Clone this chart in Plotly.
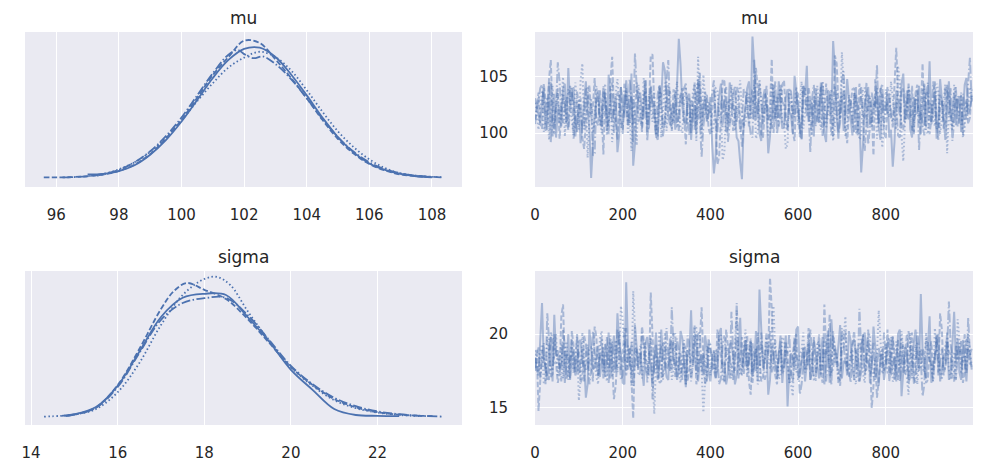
"""Trace plot of the mu / sigma posterior: KDE per chain on the left, draws on the right"""

import plotly.graph_objects as go
from plotly.subplots import make_subplots

# KDE of each chain (chain 0..3)
mu_kde_x = [
    [97.0, 97.5, 98.0, 98.5, 99.0, 99.5, 100.0, 100.5, 101.0, 101.5, 102.0, 102.5,
     103.0, 103.5, 104.0, 104.5, 105.0, 105.5, 106.0, 106.5, 107.0, 107.5, 108.0],
    [95.6, 96.0, 96.5, 97.0, 97.5, 98.0, 98.5, 99.0, 99.5, 100.0, 100.5, 101.0, 101.5,
     102.0, 102.5, 103.0, 103.5, 104.0, 104.5, 105.0, 105.5, 106.0, 106.5, 107.0, 107.5, 107.9],
    [97.3, 97.5, 98.0, 98.5, 99.0, 99.5, 100.0, 100.5, 101.0, 101.5, 102.0, 102.5,
     103.0, 103.5, 104.0, 104.5, 105.0, 105.5, 106.0, 106.5, 107.0, 107.5, 108.0, 108.3],
    [96.2, 96.5, 97.0, 97.5, 98.0, 98.5, 99.0, 99.5, 100.0, 100.5, 101.0, 101.5, 101.8,
     102.0, 102.3, 102.6, 103.0, 103.5, 104.0, 104.5, 105.0, 105.5, 106.0, 106.5, 107.0,
     107.5, 108.0, 108.3],
]
mu_kde_y = [
    [0.006, 0.007, 0.012, 0.022, 0.040, 0.065, 0.097, 0.134, 0.172, 0.203, 0.222, 0.224,
     0.208, 0.178, 0.142, 0.104, 0.070, 0.044, 0.025, 0.014, 0.007, 0.003, 0.0013],
    [0.001, 0.001, 0.0015, 0.003, 0.006, 0.012, 0.023, 0.041, 0.068, 0.100, 0.138, 0.177, 0.208,
     0.236, 0.232, 0.204, 0.172, 0.137, 0.100, 0.067, 0.042, 0.024, 0.013, 0.006, 0.003, 0.0015],
    [0.004, 0.006, 0.015, 0.027, 0.045, 0.070, 0.099, 0.132, 0.163, 0.190, 0.207, 0.217,
     0.208, 0.185, 0.151, 0.114, 0.080, 0.053, 0.032, 0.017, 0.008, 0.004, 0.002, 0.0015],
    [0.001, 0.0015, 0.003, 0.007, 0.014, 0.027, 0.046, 0.072, 0.104, 0.142, 0.180, 0.212, 0.220,
     0.213, 0.206, 0.209, 0.196, 0.170, 0.137, 0.102, 0.070, 0.045, 0.027, 0.015, 0.008,
     0.004, 0.002, 0.0012],
]

sigma_kde_x = [
    [14.7, 15.0, 15.5, 16.0, 16.5, 17.0, 17.5, 18.0, 18.5, 19.0, 19.5, 20.0, 20.5,
     21.0, 21.5, 22.0, 22.5],
    [14.8, 15.0, 15.5, 16.0, 16.5, 17.0, 17.3, 17.6, 18.0, 18.5, 19.0, 19.5, 20.0, 20.5,
     21.0, 21.5, 22.0, 22.5, 23.0, 23.3],
    [14.3, 14.7, 15.0, 15.5, 16.0, 16.5, 17.0, 17.5, 18.0, 18.3, 18.6, 19.0, 19.5, 20.0,
     20.5, 21.0, 21.5, 22.0, 22.5, 23.0],
    [14.8, 15.0, 15.5, 16.0, 16.5, 17.0, 17.5, 18.0, 18.5, 19.0, 19.5, 20.0, 20.5, 21.0,
     21.5, 22.0, 22.5, 23.0, 23.5],
]
sigma_kde_y = [
    [0.003, 0.007, 0.025, 0.078, 0.163, 0.250, 0.298, 0.308, 0.305, 0.250, 0.188, 0.118, 0.068,
     0.020, 0.005, 0.003, 0.002],
    [0.003, 0.006, 0.024, 0.080, 0.170, 0.270, 0.315, 0.335, 0.318, 0.295, 0.245, 0.185, 0.125,
     0.080, 0.045, 0.024, 0.012, 0.006, 0.003, 0.002],
    [0.001, 0.003, 0.006, 0.020, 0.062, 0.135, 0.230, 0.305, 0.345, 0.350, 0.330, 0.265, 0.190,
     0.125, 0.078, 0.042, 0.022, 0.011, 0.005, 0.002],
    [0.003, 0.006, 0.023, 0.075, 0.160, 0.243, 0.285, 0.297, 0.298, 0.255, 0.192, 0.128, 0.082,
     0.048, 0.027, 0.014, 0.007, 0.003, 0.001],
]

# every 4th draw of the 1000 per chain
draws = list(range(0, 1000, 4))

# values at draws 0, 8, 16, ...
mu_trace = [
    [103.1, 101.4, 102.8, 100.2, 104.5, 101.9, 99.6, 102.3, 103.9, 100.8,
     102.5, 104.1, 101.2, 99.1, 103.4, 102.0, 96.0, 101.7, 103.8, 100.5,
     102.9, 105.2, 101.0, 103.3, 99.8, 102.6, 104.7, 100.9, 97.1, 102.2,
     103.6, 101.3, 100.1, 104.2, 102.7, 99.4, 103.0, 105.6, 101.5, 102.1,
     100.3, 108.4, 102.4, 100.7, 103.5, 101.8, 99.9, 104.0, 102.6, 101.1,
     103.2, 96.4, 101.6, 104.4, 102.9, 100.4, 103.7, 101.9, 99.3, 95.9,
     102.8, 104.6, 108.6, 101.2, 100.0, 103.1, 102.3, 99.7, 104.3, 101.4,
     102.0, 100.6, 103.9, 101.5, 105.1, 102.7, 99.5, 103.4, 101.0, 102.5,
     104.0, 100.9, 102.2, 99.2, 103.6, 108.2, 101.7, 102.9, 100.2, 104.8,
     101.3, 103.0, 99.8, 96.5, 102.6, 104.1, 101.1, 102.4, 100.5, 103.5,
     102.1, 99.6, 97.0, 103.8, 101.6, 105.3, 102.8, 100.3, 103.2, 101.8,
     99.9, 104.4, 102.5, 100.8, 103.7, 101.3, 102.9, 99.4, 104.6, 102.0,
     100.7, 103.3, 101.5, 104.9, 102.2],
    [101.2, 103.6, 100.4, 102.9, 104.8, 101.7, 102.3, 99.5, 103.4, 101.0,
     104.2, 102.6, 100.1, 103.0, 98.6, 102.8, 101.5, 104.9, 100.7, 102.1,
     103.7, 99.9, 106.8, 101.4, 102.7, 100.3, 103.9, 102.0, 99.2, 104.5,
     101.8, 103.2, 100.6, 106.9, 102.4, 99.7, 103.5, 101.1, 104.3, 100.2,
     102.9, 101.6, 104.0, 99.0, 103.1, 102.2, 100.8, 105.4, 101.3, 102.6,
     99.8, 103.8, 97.2, 102.1, 104.6, 100.9, 102.7, 101.4, 103.6, 98.8,
     102.4, 100.5, 103.9, 105.8, 101.7, 99.6, 104.2, 102.3, 100.0, 103.3,
     101.9, 104.7, 100.4, 102.8, 99.3, 103.5, 101.2, 102.5, 104.1, 100.6,
     103.0, 101.5, 99.7, 104.4, 102.1, 100.8, 106.2, 101.3, 103.7, 99.1,
     102.6, 104.0, 100.2, 102.9, 98.4, 103.4, 101.8, 104.8, 100.9, 102.3,
     99.5, 103.1, 101.0, 107.6, 102.5, 100.3, 103.8, 101.6, 99.9, 104.3,
     102.0, 100.7, 103.5, 101.2, 104.6, 99.4, 102.8, 101.1, 103.2, 100.5,
     104.1, 101.7, 99.8, 103.0, 101.4],
    [102.7, 100.3, 103.8, 101.1, 99.4, 104.2, 102.0, 100.8, 105.0, 101.6,
     103.3, 99.8, 102.4, 104.7, 100.6, 97.8, 103.1, 101.3, 102.9, 100.0,
     104.4, 101.8, 99.2, 103.5, 102.2, 100.7, 104.0, 101.4, 103.0, 98.9,
     102.5, 104.9, 100.9, 102.0, 103.7, 101.2, 99.6, 104.5, 102.8, 100.4,
     103.4, 102.1, 100.0, 104.1, 101.5, 103.6, 99.3, 102.7, 105.2, 101.0,
     102.3, 100.6, 103.9, 101.7, 98.3, 102.9, 104.3, 100.2, 103.2, 101.8,
     100.9, 103.5, 102.0, 99.5, 104.8, 101.3, 102.6, 100.1, 103.7, 102.2,
     104.0, 101.0, 99.0, 103.3, 102.5, 100.7, 104.6, 101.6, 102.9, 99.8,
     103.1, 101.9, 104.5, 100.4, 102.7, 99.3, 103.8, 101.2, 104.2, 100.8,
     102.4, 103.6, 101.0, 99.7, 104.0, 102.1, 100.5, 103.3, 101.8, 98.7,
     103.9, 101.4, 102.8, 100.3, 104.6, 97.5, 102.2, 103.5, 100.9, 102.6,
     101.1, 104.2, 99.9, 102.7, 100.6, 103.8, 101.5, 104.4, 102.0, 100.2,
     103.4, 101.9, 99.6, 102.9, 104.1],
    [100.8, 102.9, 104.3, 101.5, 103.0, 99.7, 102.4, 104.6, 100.9, 103.2,
     101.8, 99.5, 103.7, 102.1, 100.4, 104.0, 102.6, 98.2, 103.1, 101.2,
     102.8, 100.6, 104.5, 101.9, 103.3, 99.9, 102.2, 104.8, 100.7, 103.6,
     101.4, 102.9, 99.3, 104.1, 101.0, 103.5, 102.3, 100.5, 106.5, 101.7,
     103.8, 100.2, 102.6, 104.4, 99.8, 102.0, 103.9, 101.3, 100.6, 103.4,
     101.9, 104.7, 100.0, 102.8, 103.2, 99.2, 101.6, 104.2, 102.4, 100.9,
     103.6, 101.1, 99.6, 102.9, 104.5, 100.8, 103.0, 101.7, 102.2, 99.9,
     104.3, 102.5, 100.3, 103.7, 101.4, 102.0, 99.4, 104.0, 101.8, 103.1,
     100.6, 102.7, 104.6, 101.2, 103.4, 99.7, 102.3, 100.9, 105.5, 101.5,
     103.0, 100.1, 102.5, 104.1, 101.3, 99.0, 103.6, 102.2, 100.7, 104.4,
     101.9, 103.3, 100.5, 102.8, 99.6, 104.0, 101.4, 102.6, 100.2, 103.8,
     102.1, 99.8, 104.5, 101.0, 103.1, 100.6, 102.9, 104.2, 101.6, 99.3,
     102.7, 100.9, 103.5, 101.2, 106.7],
]

# values at draws 4, 12, 20, ...
mu_trace_mid = [
    [102.4, 100.9, 104.0, 101.7, 99.2, 103.5, 102.1, 100.6, 104.4, 105.8,
     103.0, 99.7, 102.6, 101.1, 104.6, 100.4, 98.7, 102.9, 101.6, 103.7,
     100.2, 103.4, 102.0, 98.3, 104.1, 101.4, 102.8, 105.3, 99.0, 103.1,
     101.9, 104.7, 100.5, 102.3, 99.8, 104.2, 106.3, 103.6, 100.7, 102.7,
     104.3, 106.1, 101.0, 103.2, 99.4, 102.5, 104.8, 100.3, 103.0, 101.5,
     99.1, 98.0, 103.3, 101.8, 100.1, 104.5, 102.2, 99.6, 97.4, 100.9,
     104.0, 101.6, 105.9, 102.7, 99.3, 103.9, 98.2, 102.4, 101.1, 104.6,
     100.4, 103.1, 101.9, 99.9, 103.6, 101.0, 104.2, 106.0, 102.9, 99.7,
     102.3, 104.5, 100.0, 103.8, 101.4, 105.7, 99.5, 103.3, 101.8, 102.6,
     99.8, 104.1, 101.5, 98.9, 103.4, 100.7, 102.8, 104.0, 99.4, 102.1,
     103.5, 100.3, 99.2, 102.6, 104.4, 101.2, 103.9, 99.6, 101.7, 104.2,
     102.0, 100.5, 106.4, 101.9, 99.5, 104.8, 100.9, 102.4, 101.3, 103.6,
     102.9, 100.1, 104.3, 101.7, 103.1],
    [102.6, 100.8, 104.4, 101.5, 106.5, 99.9, 104.0, 101.2, 102.7, 100.3,
     103.5, 101.1, 102.9, 99.6, 100.9, 104.3, 102.2, 101.0, 103.8, 98.1,
     102.0, 104.6, 101.9, 99.4, 104.1, 102.5, 100.6, 103.3, 101.6, 102.9,
     100.1, 104.7, 102.3, 107.0, 100.8, 103.6, 99.7, 102.8, 101.4, 103.9,
     100.5, 103.4, 101.8, 102.6, 100.0, 104.5, 101.3, 102.1, 103.7, 100.4,
     102.2, 101.0, 97.9, 104.8, 101.9, 103.0, 100.2, 104.1, 101.6, 100.7,
     103.6, 102.8, 101.2, 104.0, 99.9, 102.5, 101.1, 106.6, 102.0, 100.5,
     104.3, 101.8, 102.6, 100.1, 103.7, 99.6, 104.2, 101.5, 102.9, 103.2,
     100.9, 104.1, 101.3, 102.2, 99.8, 106.9, 102.7, 103.0, 100.6, 101.9,
     103.9, 100.0, 104.4, 101.6, 100.8, 103.1, 98.0, 102.5, 104.0, 100.2,
     102.8, 101.4, 104.9, 103.3, 100.7, 102.0, 101.2, 104.2, 103.6, 100.9,
     106.2, 103.7, 99.9, 102.6, 101.0, 103.4, 100.4, 104.3, 101.8, 102.3,
     100.6, 103.5, 102.1, 100.8, 103.9],
    [101.5, 102.4, 100.1, 103.2, 101.9, 100.9, 103.6, 102.5, 99.7, 103.9,
     101.0, 104.5, 100.3, 106.2, 103.4, 101.2, 100.0, 104.2, 101.7, 102.6,
     99.8, 103.0, 101.4, 104.8, 100.5, 102.2, 99.9, 98.4, 101.1, 104.3,
     100.8, 102.7, 103.5, 101.0, 99.6, 104.1, 102.3, 100.2, 103.8, 101.6,
     104.6, 100.4, 103.1, 101.8, 100.7, 104.4, 106.8, 99.5, 103.3, 102.8,
     100.1, 104.0, 101.3, 97.6, 102.6, 100.9, 103.5, 101.9, 104.7, 100.6,
     102.4, 101.2, 104.3, 100.0, 103.0, 102.1, 99.8, 104.5, 101.4, 103.6,
     101.0, 98.6, 103.8, 101.7, 104.1, 102.3, 100.4, 103.2, 100.8, 102.7,
     104.2, 100.3, 102.9, 101.5, 103.9, 100.6, 102.0, 107.2, 99.7, 103.4,
     101.2, 102.6, 99.4, 104.0, 100.9, 103.1, 101.8, 99.5, 102.4, 100.7,
     102.0, 104.6, 101.6, 106.0, 99.8, 101.0, 104.1, 100.5, 103.3, 101.9,
     103.8, 100.2, 102.5, 101.4, 104.4, 99.9, 103.0, 98.2, 100.8, 104.3,
     101.7, 103.6, 100.4, 102.1, 103.2],
    [101.9, 104.0, 102.6, 100.2, 104.6, 101.3, 106.3, 101.8, 102.2, 100.5,
     104.1, 100.9, 102.4, 100.3, 103.9, 101.5, 98.0, 102.8, 100.7, 104.2,
     101.6, 103.1, 100.0, 103.6, 101.2, 104.4, 100.8, 102.7, 107.1, 101.0,
     100.4, 103.8, 101.9, 102.5, 99.8, 104.3, 100.6, 104.7, 102.1, 100.9,
     101.7, 103.4, 104.0, 101.1, 102.9, 100.3, 104.5, 97.9, 102.2, 101.8,
     103.6, 101.4, 102.7, 100.5, 104.1, 100.8, 103.3, 101.0, 100.1, 103.9,
     102.3, 99.9, 106.6, 101.7, 102.9, 103.5, 101.2, 100.4, 104.6, 101.5,
     102.8, 100.6, 104.0, 101.9, 103.2, 100.2, 103.7, 102.4, 98.3, 104.3,
     101.8, 103.9, 100.7, 102.6, 101.1, 104.2, 100.0, 104.7, 101.6, 103.0,
     100.8, 103.4, 101.3, 102.0, 104.5, 100.5, 102.7, 106.1, 103.8, 100.9,
     104.1, 101.7, 102.3, 99.8, 103.6, 101.0, 104.4, 100.3, 102.9, 98.5,
     100.6, 103.2, 101.9, 104.6, 100.4, 102.5, 101.1, 103.7, 104.0, 101.4,
     103.3, 100.7, 102.2, 104.5, 102.8],
]

sigma_trace = [
    [18.4, 17.2, 22.1, 17.9, 19.0, 16.8, 18.5, 17.6, 19.4, 18.0,
     16.9, 18.8, 17.5, 19.6, 18.2, 16.6, 18.9, 17.7, 19.2, 18.3,
     17.1, 20.1, 18.6, 17.4, 19.5, 16.7, 23.5, 18.1, 17.3, 19.1,
     18.7, 16.5, 19.8, 17.8, 18.4, 17.0, 20.3, 18.2, 16.9, 19.3,
     18.0, 17.5, 19.7, 16.4, 18.6, 17.9, 20.0, 18.3, 17.2, 19.0,
     16.8, 18.9, 17.6, 20.4, 18.1, 17.3, 19.4, 16.6, 18.5, 17.8,
     19.6, 18.0, 17.1, 20.2, 23.0, 17.7, 19.1, 16.9, 18.4, 17.4,
     19.9, 18.2, 15.1, 18.7, 17.6, 20.5, 18.0, 16.8, 19.3, 17.5,
     18.6, 17.0, 19.8, 18.3, 16.7, 19.0, 17.9, 20.6, 18.1, 17.2,
     19.5, 16.9, 18.8, 17.4, 20.1, 18.2, 17.7, 19.2, 16.5, 18.6,
     17.8, 19.7, 18.0, 16.8, 20.3, 17.5, 18.9, 17.1, 19.4, 18.3,
     22.7, 17.6, 19.0, 16.7, 18.5, 20.0, 17.9, 18.2, 16.9, 19.3,
     18.1, 17.4, 19.6, 16.8, 18.7],
    [17.5, 14.8, 18.9, 17.8, 16.9, 19.7, 18.1, 17.3, 22.0, 18.6,
     17.0, 19.2, 18.4, 16.7, 19.9, 17.6, 18.3, 20.5, 17.1, 18.8,
     19.4, 17.7, 18.0, 16.5, 20.2, 18.5, 17.2, 19.1, 14.3, 18.7,
     17.9, 19.6, 18.2, 22.8, 17.4, 18.6, 16.8, 19.3, 18.0, 17.5,
     20.0, 18.3, 16.9, 19.0, 17.7, 18.8, 16.6, 19.5, 18.1, 17.2,
     18.9, 17.6, 20.3, 18.4, 16.7, 19.2, 17.9, 18.5, 17.0, 19.8,
     18.2, 16.8, 19.4, 17.5, 18.7, 17.1, 20.1, 23.8, 18.0, 16.6,
     19.0, 17.8, 18.6, 17.3, 19.7, 16.9, 18.3, 17.6, 20.4, 18.1,
     17.4, 19.3, 16.7, 18.8, 17.9, 19.9, 18.2, 16.5, 19.1, 17.7,
     18.5, 20.2, 17.0, 18.9, 17.5, 19.6, 15.0, 18.4, 17.2, 19.0,
     18.0, 16.8, 19.8, 17.6, 18.7, 17.3, 20.0, 18.3, 16.6, 19.4,
     17.8, 18.6, 16.9, 19.5, 18.1, 17.4, 20.3, 17.9, 18.8, 17.0,
     19.2, 18.4, 16.7, 19.7, 18.0],
    [18.9, 17.4, 19.3, 16.8, 18.6, 17.7, 20.0, 18.2, 17.0, 19.5,
     18.0, 17.3, 19.8, 16.9, 18.5, 17.8, 19.1, 18.3, 16.6, 20.2,
     17.6, 18.8, 17.1, 19.6, 18.4, 21.0, 17.5, 18.9, 22.9, 17.8,
     19.2, 18.1, 16.7, 19.7, 14.6, 18.6, 17.3, 20.1, 18.0, 16.9,
     19.4, 17.6, 18.7, 16.5, 19.0, 17.9, 20.4, 18.3, 14.7, 19.1,
     17.2, 18.8, 17.7, 19.9, 16.8, 18.4, 17.0, 19.3, 18.1, 17.5,
     20.3, 18.6, 17.3, 19.0, 16.9, 18.2, 19.8, 17.6, 21.9, 18.5,
     17.1, 19.6, 18.0, 16.6, 19.2, 17.8, 18.9, 17.4, 20.0, 18.3,
     16.8, 19.4, 17.9, 18.6, 17.2, 20.2, 18.1, 16.9, 19.7, 17.5,
     18.7, 17.0, 19.1, 18.4, 16.7, 19.9, 17.6, 18.2, 21.6, 17.3,
     19.3, 18.0, 16.8, 19.5, 17.7, 18.8, 17.1, 20.1, 18.5, 16.6,
     19.0, 17.4, 18.6, 17.9, 20.4, 18.1, 16.9, 19.2, 17.6, 18.3,
     17.0, 19.6, 18.2, 17.5, 18.9],
    [17.7, 19.1, 18.0, 16.6, 19.6, 17.3, 18.7, 17.9, 20.3, 16.9,
     18.4, 17.5, 20.0, 18.2, 16.8, 19.3, 17.6, 18.9, 17.1, 19.8,
     18.3, 16.7, 19.5, 17.8, 18.6, 17.2, 20.4, 18.1, 16.5, 19.0,
     17.4, 18.8, 17.0, 19.7, 18.2, 16.9, 19.2, 17.6, 18.5, 21.8,
     17.1, 18.9, 17.8, 16.6, 19.4, 18.0, 17.3, 20.1, 18.6, 16.8,
     19.3, 17.7, 18.4, 17.0, 19.9, 18.2, 21.5, 17.5, 18.8, 17.2,
     19.6, 18.1, 16.7, 19.0, 17.8, 18.5, 17.4, 20.2, 18.3, 16.9,
     19.5, 17.6, 18.7, 17.1, 19.8, 18.0, 16.6, 19.2, 17.9, 18.4,
     17.0, 20.0, 18.2, 16.8, 21.3, 17.7, 18.6, 17.3, 19.4, 18.1,
     16.7, 19.7, 17.5, 18.9, 17.2, 20.3, 18.0, 16.9, 19.1, 17.8,
     18.6, 17.4, 19.9, 18.2, 16.8, 19.3, 17.6, 18.8, 17.1, 20.1,
     18.3, 16.6, 19.5, 17.9, 18.5, 17.2, 19.0, 17.7, 22.2, 18.0,
     16.9, 19.4, 18.1, 17.3, 18.6],
]

sigma_trace_mid = [
    [17.6, 19.3, 18.2, 16.9, 19.8, 21.3, 18.9, 18.1, 16.7, 20.0,
     18.5, 17.2, 19.5, 18.0, 15.7, 20.3, 17.7, 18.6, 17.1, 19.1,
     18.3, 17.0, 19.9, 21.4, 18.7, 16.6, 19.2, 17.5, 20.6, 18.0,
     17.3, 19.4, 18.8, 16.7, 20.1, 17.9, 18.4, 17.1, 19.7, 18.2,
     16.9, 20.2, 17.6, 18.9, 21.6, 19.5, 16.8, 18.6, 19.9, 17.4,
     18.2, 17.0, 20.0, 17.8, 16.6, 19.3, 18.5, 17.2, 21.1, 18.4,
     17.7, 19.6, 18.1, 16.8, 20.4, 18.3, 15.9, 19.2, 17.9, 18.7,
     16.7, 19.9, 17.5, 18.4, 20.3, 17.1, 19.0, 18.2, 16.9, 19.6,
     17.8, 18.5, 16.6, 20.1, 21.0, 18.8, 19.5, 17.0, 18.3, 20.2,
     17.6, 18.9, 16.8, 19.7, 18.1, 17.3, 20.5, 17.8, 18.6, 16.9,
     19.4, 17.2, 18.4, 20.0, 15.8, 19.1, 16.7, 18.5, 20.3, 17.5,
     18.8, 17.0, 21.2, 17.9, 19.3, 16.8, 18.6, 20.1, 17.4, 21.5,
     19.7, 16.9, 18.3, 19.0, 17.6],
    [19.0, 16.9, 18.4, 17.2, 20.1, 18.0, 16.7, 21.2, 17.8, 18.6,
     20.2, 17.4, 18.9, 17.0, 19.3, 18.2, 16.8, 19.8, 18.5, 17.3,
     18.0, 19.6, 15.6, 18.8, 17.5, 20.4, 18.3, 16.9, 19.1, 17.7,
     20.5, 18.1, 17.2, 19.9, 18.6, 16.7, 19.4, 17.6, 18.3, 20.0,
     17.1, 18.7, 19.3, 16.8, 18.2, 20.6, 17.4, 21.8, 16.6, 19.7,
     18.4, 17.0, 19.2, 17.8, 20.3, 18.1, 16.9, 19.6, 18.7, 17.3,
     19.9, 15.9, 18.3, 20.1, 16.8, 19.0, 18.5, 21.7, 17.2, 18.8,
     17.7, 19.5, 16.7, 18.6, 20.0, 17.4, 19.1, 18.2, 16.9, 19.8,
     18.0, 17.3, 22.0, 18.5, 16.6, 19.2, 17.8, 18.9, 20.2, 17.1,
     19.4, 18.3, 16.8, 20.0, 17.6, 18.7, 16.5, 15.7, 18.1, 17.5,
     20.3, 17.9, 18.6, 16.9, 19.7, 18.2, 17.0, 20.1, 18.4, 17.7,
     19.0, 16.7, 18.8, 17.6, 19.9, 21.4, 17.2, 19.5, 18.6, 16.8,
     18.3, 19.6, 17.4, 18.9, 17.9],
    [17.9, 18.7, 16.7, 19.8, 17.5, 18.9, 17.2, 19.4, 18.4, 16.9,
     19.3, 18.0, 15.5, 20.1, 17.6, 19.0, 18.5, 17.1, 19.7, 18.2,
     16.8, 19.9, 18.1, 17.4, 21.9, 18.6, 19.2, 16.5, 20.0, 18.3,
     17.0, 19.5, 18.8, 17.3, 18.0, 20.2, 16.9, 18.7, 19.4, 17.5,
     18.2, 16.7, 19.6, 18.4, 17.1, 20.5, 18.0, 17.6, 16.8, 19.2,
     18.6, 17.3, 20.0, 16.9, 19.1, 17.8, 18.5, 21.6, 17.2, 18.9,
     17.6, 19.7, 18.1, 16.6, 19.3, 17.9, 18.4, 20.2, 18.7, 17.0,
     19.8, 18.3, 16.8, 15.8, 17.4, 18.6, 20.1, 17.7, 18.2, 16.9,
     19.5, 17.2, 18.8, 20.3, 17.5, 18.0, 16.7, 19.9, 21.2, 17.8,
     18.9, 16.6, 19.4, 17.3, 18.5, 20.0, 17.1, 18.7, 19.6, 17.6,
     18.1, 19.8, 16.9, 18.3, 20.2, 17.4, 15.9, 17.0, 19.3, 18.6,
     17.7, 20.1, 18.2, 16.8, 19.0, 17.5, 18.4, 19.7, 16.9, 18.8,
     21.0, 17.3, 18.6, 20.0, 17.8],
    [18.5, 17.0, 19.4, 21.4, 17.1, 20.0, 18.4, 16.8, 19.2, 17.7,
     19.6, 18.1, 17.3, 19.0, 18.7, 16.6, 20.2, 17.9, 18.3, 17.0,
     19.8, 18.5, 17.4, 20.3, 16.9, 18.8, 17.6, 19.5, 18.0, 17.2,
     20.1, 17.8, 18.6, 15.6, 19.3, 18.4, 17.1, 20.4, 17.5, 18.9,
     19.7, 17.3, 18.2, 19.9, 16.8, 18.6, 20.0, 17.4, 18.1, 19.4,
     17.6, 18.9, 16.6, 19.2, 18.3, 17.0, 18.7, 22.1, 17.8, 18.4,
     17.1, 19.5, 18.0, 17.7, 20.1, 16.9, 18.8, 17.4, 19.6, 18.2,
     17.3, 18.9, 20.0, 16.7, 18.5, 15.9, 17.8, 18.1, 20.3, 17.0,
     18.6, 17.5, 19.7, 18.3, 17.2, 19.0, 16.8, 20.4, 18.0, 17.6,
     19.2, 18.4, 21.7, 19.9, 18.7, 16.6, 19.4, 17.7, 18.2, 20.1,
     17.4, 18.8, 16.9, 19.6, 18.0, 17.3, 20.2, 18.5, 16.7, 19.1,
     15.8, 19.7, 18.3, 16.8, 20.0, 18.1, 17.5, 18.9, 19.3, 17.2,
     18.6, 17.9, 20.0, 21.1, 19.0],
]

titles = ["mu", "mu", "sigma", "sigma"]

color = "#4C72B0"
bg = "#EAEAF2"
text_color = "#262626"
font = "DejaVu Sans"

# matplotlib-like dash patterns per chain
kde_dash = ["solid", "5.5px,2.4px", "1.5px,2.5px", "9px,2.4px,1.5px,2.4px"]
trace_dash = ["solid", "5.5px,2.4px", "1.5px,2.5px", "9px,2.4px,1.5px,2.4px"]


def interleave(a, b):
    return [v for pair in zip(a, b) for v in pair]


# the page body has an 8px margin, so the figure starts at (8, 8)
OFF = 8
W, H = 995 - 2 * OFF, 472 - 2 * OFF

fig = make_subplots(rows=2, cols=2)

for c in range(4):
    fig.add_trace(
        go.Scatter(x=mu_kde_x[c], y=mu_kde_y[c], mode="lines", line_shape="spline",
                   line=dict(color=color, width=1.8, dash=kde_dash[c]), showlegend=False),
        row=1, col=1,
    )
    fig.add_trace(
        go.Scatter(x=draws, y=interleave(mu_trace[c], mu_trace_mid[c]), mode="lines",
                   opacity=0.42, line=dict(color=color, width=2.0, dash=trace_dash[c]),
                   showlegend=False),
        row=1, col=2,
    )
    fig.add_trace(
        go.Scatter(x=sigma_kde_x[c], y=sigma_kde_y[c], mode="lines", line_shape="spline",
                   line=dict(color=color, width=1.8, dash=kde_dash[c]), showlegend=False),
        row=2, col=1,
    )
    fig.add_trace(
        go.Scatter(x=draws, y=interleave(sigma_trace[c], sigma_trace_mid[c]), mode="lines",
                   opacity=0.42, line=dict(color=color, width=2.0, dash=trace_dash[c]),
                   showlegend=False),
        row=2, col=2,
    )

# panel boxes in screen pixels (left, right, top, bottom)
boxes = [(25, 462, 32, 187), (535, 973, 32, 187), (25, 462, 271, 425), (535, 973, 271, 425)]
x_ranges = [[95.0, 108.96], [0, 999], [13.86, 23.95], [0, 999]]
y_ranges = [[-0.0155, 0.251], [95.2, 109.0], [-0.02, 0.365], [13.85, 24.26]]

axis_common = dict(
    showline=False, zeroline=False, gridcolor="white", gridwidth=1.4, automargin=False,
    tickfont=dict(family=font, size=15, color=text_color),
    ticks="outside", tickcolor="rgba(0,0,0,0)",
)

annotations = []
for i, (l, r, t, b) in enumerate(boxes):
    l, r, t, b = l - OFF, r - OFF, t - OFF, b - OFF
    suffix = "" if i == 0 else str(i + 1)
    is_trace = i % 2 == 1
    fig.layout["xaxis" + suffix].update(
        domain=[l / W, r / W], range=x_ranges[i], ticklen=14, showgrid=True,
        dtick=200 if is_trace else 2, tick0=0, **axis_common,
    )
    fig.layout["yaxis" + suffix].update(
        domain=[1 - b / H, 1 - t / H], range=y_ranges[i], ticklen=23,
        showgrid=is_trace, showticklabels=is_trace, dtick=5, tick0=0, **axis_common,
    )
    annotations.append(dict(
        text=titles[i], x=(l + r) / 2 / W, y=1 - (t - 2) / H, xref="paper", yref="paper",
        xanchor="center", yanchor="bottom", showarrow=False,
        font=dict(family=font, size=17, color=text_color),
    ))

fig.update_layout(
    width=W, height=H,
    margin=dict(l=0, r=0, t=0, b=0),
    paper_bgcolor="white", plot_bgcolor=bg,
    annotations=annotations,
)

fig.write_html("out.html")
